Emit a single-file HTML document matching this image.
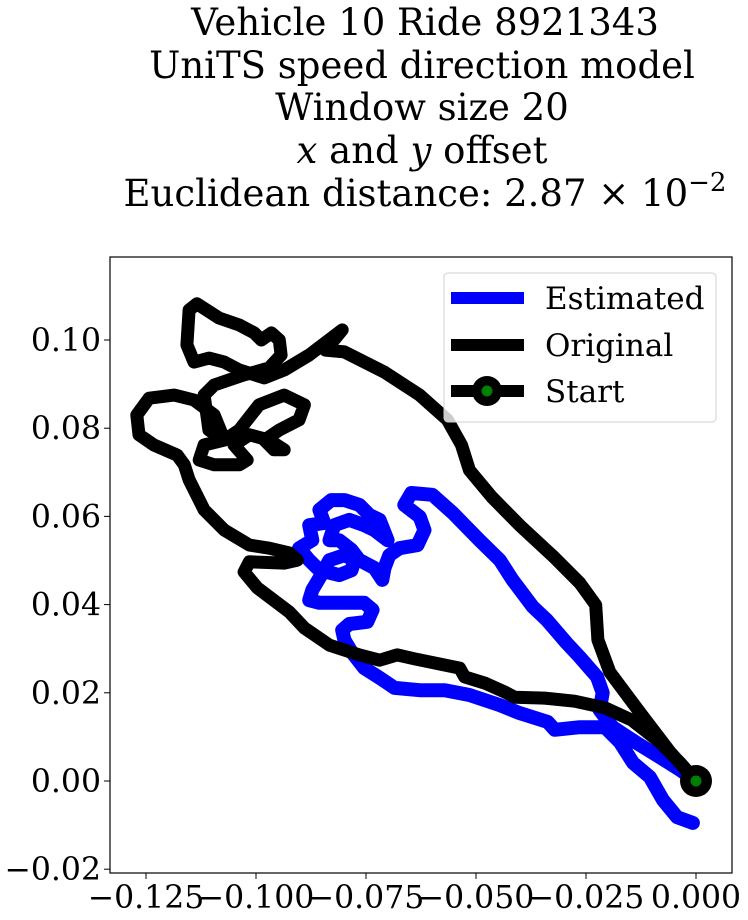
<!DOCTYPE html>
<html><head><meta charset="utf-8"><style>
html,body{margin:0;padding:0;background:#fff;}
svg{display:block;font-family:"DejaVu Serif","Liberation Serif",serif;}
</style></head><body>
<svg id="chart" width="748" height="920" viewBox="0 0 748 920">
<g font-size="37" text-anchor="middle" fill="#000">
<text x="425" y="35">Vehicle 10 Ride 8921343</text>
<text x="422" y="78">UniTS speed direction model</text>
<text x="422" y="120">Window size 20</text>
<text x="422" y="163"><tspan font-style="italic">x</tspan> and <tspan font-style="italic">y</tspan> offset</text>
<text x="425" y="206">Euclidean distance: 2.87 × 10<tspan dy="-15" font-size="26">−2</tspan></text>
</g>
<rect x="110" y="257" width="622" height="616" fill="#fff" stroke="#000" stroke-width="1.2"/>
<g id="xticks"></g>
<g id="yticks"></g>
<g id="series"></g>
<g>
<rect x="444" y="273" width="272" height="149" rx="4" fill="#fff" fill-opacity="0.8" stroke="#d0d0d0" stroke-width="1"/>
<g>
<line x1="451" y1="298" x2="524" y2="298" stroke="#0000ff" stroke-width="12"/>
<text x="545" y="309" font-size="31">Estimated</text></g>
<g>
<line x1="451" y1="345" x2="524" y2="345" stroke="#000" stroke-width="12"/>
<text x="545" y="356" font-size="31">Original</text></g>
<g>
<line x1="451" y1="391" x2="524" y2="391" stroke="#000" stroke-width="12"/>
<circle cx="487" cy="391" r="15" fill="#000"/><circle cx="487" cy="391" r="5.5" fill="#008000"/>
<text x="545" y="402" font-size="31">Start</text></g>
</g>
</svg>
<script>
const xTickValues=[-0.125,-0.100,-0.075,-0.050,-0.025,0.000];
const xTickLabels=["−0.125","−0.100","−0.075","−0.050","−0.025","0.000"];
const yTickValues=[-0.02,0.00,0.02,0.04,0.06,0.08,0.10];
const yTickLabels=["−0.02","0.00","0.02","0.04","0.06","0.08","0.10"];
const originalX=[0,-.0059,-.0128,-.0196,-.0223,-.0228,-.0264,-.0321,-.0401,-.0464,-.0515,-.0533,-.0565,-.0628,-.0708,-.0799,-.0842,-.0804,-.0879,-.0936,-.0981,-.1038,-.1072,-.1107,-.1141,-.1157,-.1152,-.1134,-.1084,-.1038,-.1004,-.0988,-.0965,-.0947,-.0943,-.0970,-.1004,-.1027,-.1095,-.1118,-.1107,-.1072,-.1038,-.0993,-.0936,-.0890,-.0902,-.0947,-.0981,-.0959,-.0936,-.0970,-.1015,-.1050,-.1020,-.1038,-.1095,-.1129,-.1118,-.1072,-.1095,-.1141,-.1186,-.1243,-.1271,-.1266,-.1232,-.1179,-.1163,-.1152,-.1118,-.1072,-.1015,-.0970,-.0924,-.0906,-.0936,-.1015,-.1027,-.0997,-.0924,-.0890,-.0833,-.0765,-.0719,-.0679,-.0640,-.0537,-.0526,-.0480,-.0435,-.0412,-.0344,-.0276,-.0207,-.0146,-.0082,-.0036,0];
const originalY=[0,.0066,.0156,.0247,.0320,.0399,.0449,.0506,.0580,.0644,.0705,.0762,.0819,.0875,.0927,.0973,.0977,.1023,.0966,.0932,.0914,.0932,.0950,.0959,.0950,.0989,.1068,.1082,.1050,.1034,.1016,.1000,.1016,.1000,.0966,.0937,.0927,.0921,.0898,.0875,.0796,.0773,.0796,.0853,.0875,.0853,.0819,.0796,.0773,.0751,.0751,.0773,.0785,.0762,.0728,.0717,.0717,.0728,.0762,.0773,.0830,.0864,.0875,.0868,.0830,.0785,.0762,.0739,.0717,.0683,.0615,.0569,.0535,.0528,.0517,.0501,.0494,.0497,.0474,.0438,.0383,.0347,.0308,.0286,.0274,.0286,.0277,.0256,.0236,.0222,.0202,.0190,.0188,.0181,.0166,.0138,.0088,.0041,0];
const estimatedX=[0,-.0036,-.0082,-.0134,-.0189,-.0219,-.0212,-.0225,-.0264,-.0294,-.0339,-.0371,-.0417,-.0446,-.0492,-.0553,-.0599,-.0647,-.0663,-.0628,-.0617,-.0633,-.0674,-.0697,-.0708,-.0713,-.0731,-.0765,-.0783,-.0811,-.0833,-.0822,-.0788,-.0754,-.0731,-.0701,-.0719,-.0742,-.0765,-.0799,-.0829,-.0856,-.0845,-.0879,-.0872,-.0902,-.0879,-.0856,-.0811,-.0783,-.0776,-.0799,-.0833,-.0856,-.0872,-.0879,-.0856,-.0811,-.0754,-.0735,-.0747,-.0788,-.0804,-.0799,-.0783,-.0754,-.0719,-.0685,-.0628,-.0571,-.0515,-.0446,-.0401,-.0337,-.0321,-.0264,-.0207,-.0173,-.0143,-.0105,-.0075,-.0043,-.0007];
const estimatedY=[0,.0025,.0054,.0086,.0122,.0161,.0200,.0236,.0281,.0313,.0365,.0395,.0456,.0501,.0546,.0608,.0649,.0653,.0626,.0599,.0569,.0535,.0528,.0512,.0483,.0456,.0483,.0501,.0524,.0546,.0546,.0580,.0592,.0580,.0569,.0546,.0592,.0603,.0626,.0637,.0637,.0615,.0585,.0580,.0546,.0528,.0501,.0478,.0467,.0478,.0501,.0512,.0501,.0460,.0433,.0410,.0404,.0404,.0404,.0388,.0361,.0356,.0342,.0320,.0293,.0256,.0234,.0211,.0206,.0206,.0195,.0172,.0154,.0134,.0116,.0122,.0122,.0088,.0041,.0009,-.0043,-.0082,-.0095];
const startX=[0];
const startY=[0];

const NS="http://www.w3.org/2000/svg";
const X0=696,XS=4400,Y0=781,YS=4410;
function sx(v){return X0+v*XS;}
function sy(v){return Y0-v*YS;}
function mk(tag,attrs,parent){const e=document.createElementNS(NS,tag);for(const k in attrs)e.setAttribute(k,attrs[k]);parent.appendChild(e);return e;}

const xg=document.getElementById('xticks');
xTickValues.forEach((v,i)=>{
  const t=mk('line',{x1:sx(v),x2:sx(v),y1:873,y2:879,stroke:'#000','stroke-width':1},xg);
  
  
  const l=mk('text',{x:sx(v),y:908,'font-size':31.5,'text-anchor':'middle'},xg);
  l.textContent=xTickLabels[i];
  
  
});
const yg=document.getElementById('yticks');
yTickValues.forEach((v,i)=>{
  const t=mk('line',{x1:104,x2:110,y1:sy(v),y2:sy(v),stroke:'#000','stroke-width':1},yg);
  
  
  const l=mk('text',{x:101,y:sy(v)+11,'font-size':31.5,'text-anchor':'end'},yg);
  l.textContent=yTickLabels[i];
  
  
});
const sg=document.getElementById('series');
function pts(xs,ys){return xs.map((x,i)=>sx(x).toFixed(1)+','+sy(ys[i]).toFixed(1)).join(' ');}
const est=mk('polyline',{points:pts(estimatedX,estimatedY),fill:'none',stroke:'#0000ff','stroke-width':14,'stroke-linejoin':'round','stroke-linecap':'round'},sg);


const org=mk('polyline',{points:pts(originalX,originalY),fill:'none',stroke:'#000','stroke-width':13,'stroke-linejoin':'round','stroke-linecap':'round'},sg);


const so=mk('circle',{cx:sx(startX[0]),cy:sy(startY[0]),r:16,fill:'#000'},sg);


const si=mk('circle',{cx:sx(startX[0]),cy:sy(startY[0]),r:5.5,fill:'#008000'},sg);


</script>
</body></html>
